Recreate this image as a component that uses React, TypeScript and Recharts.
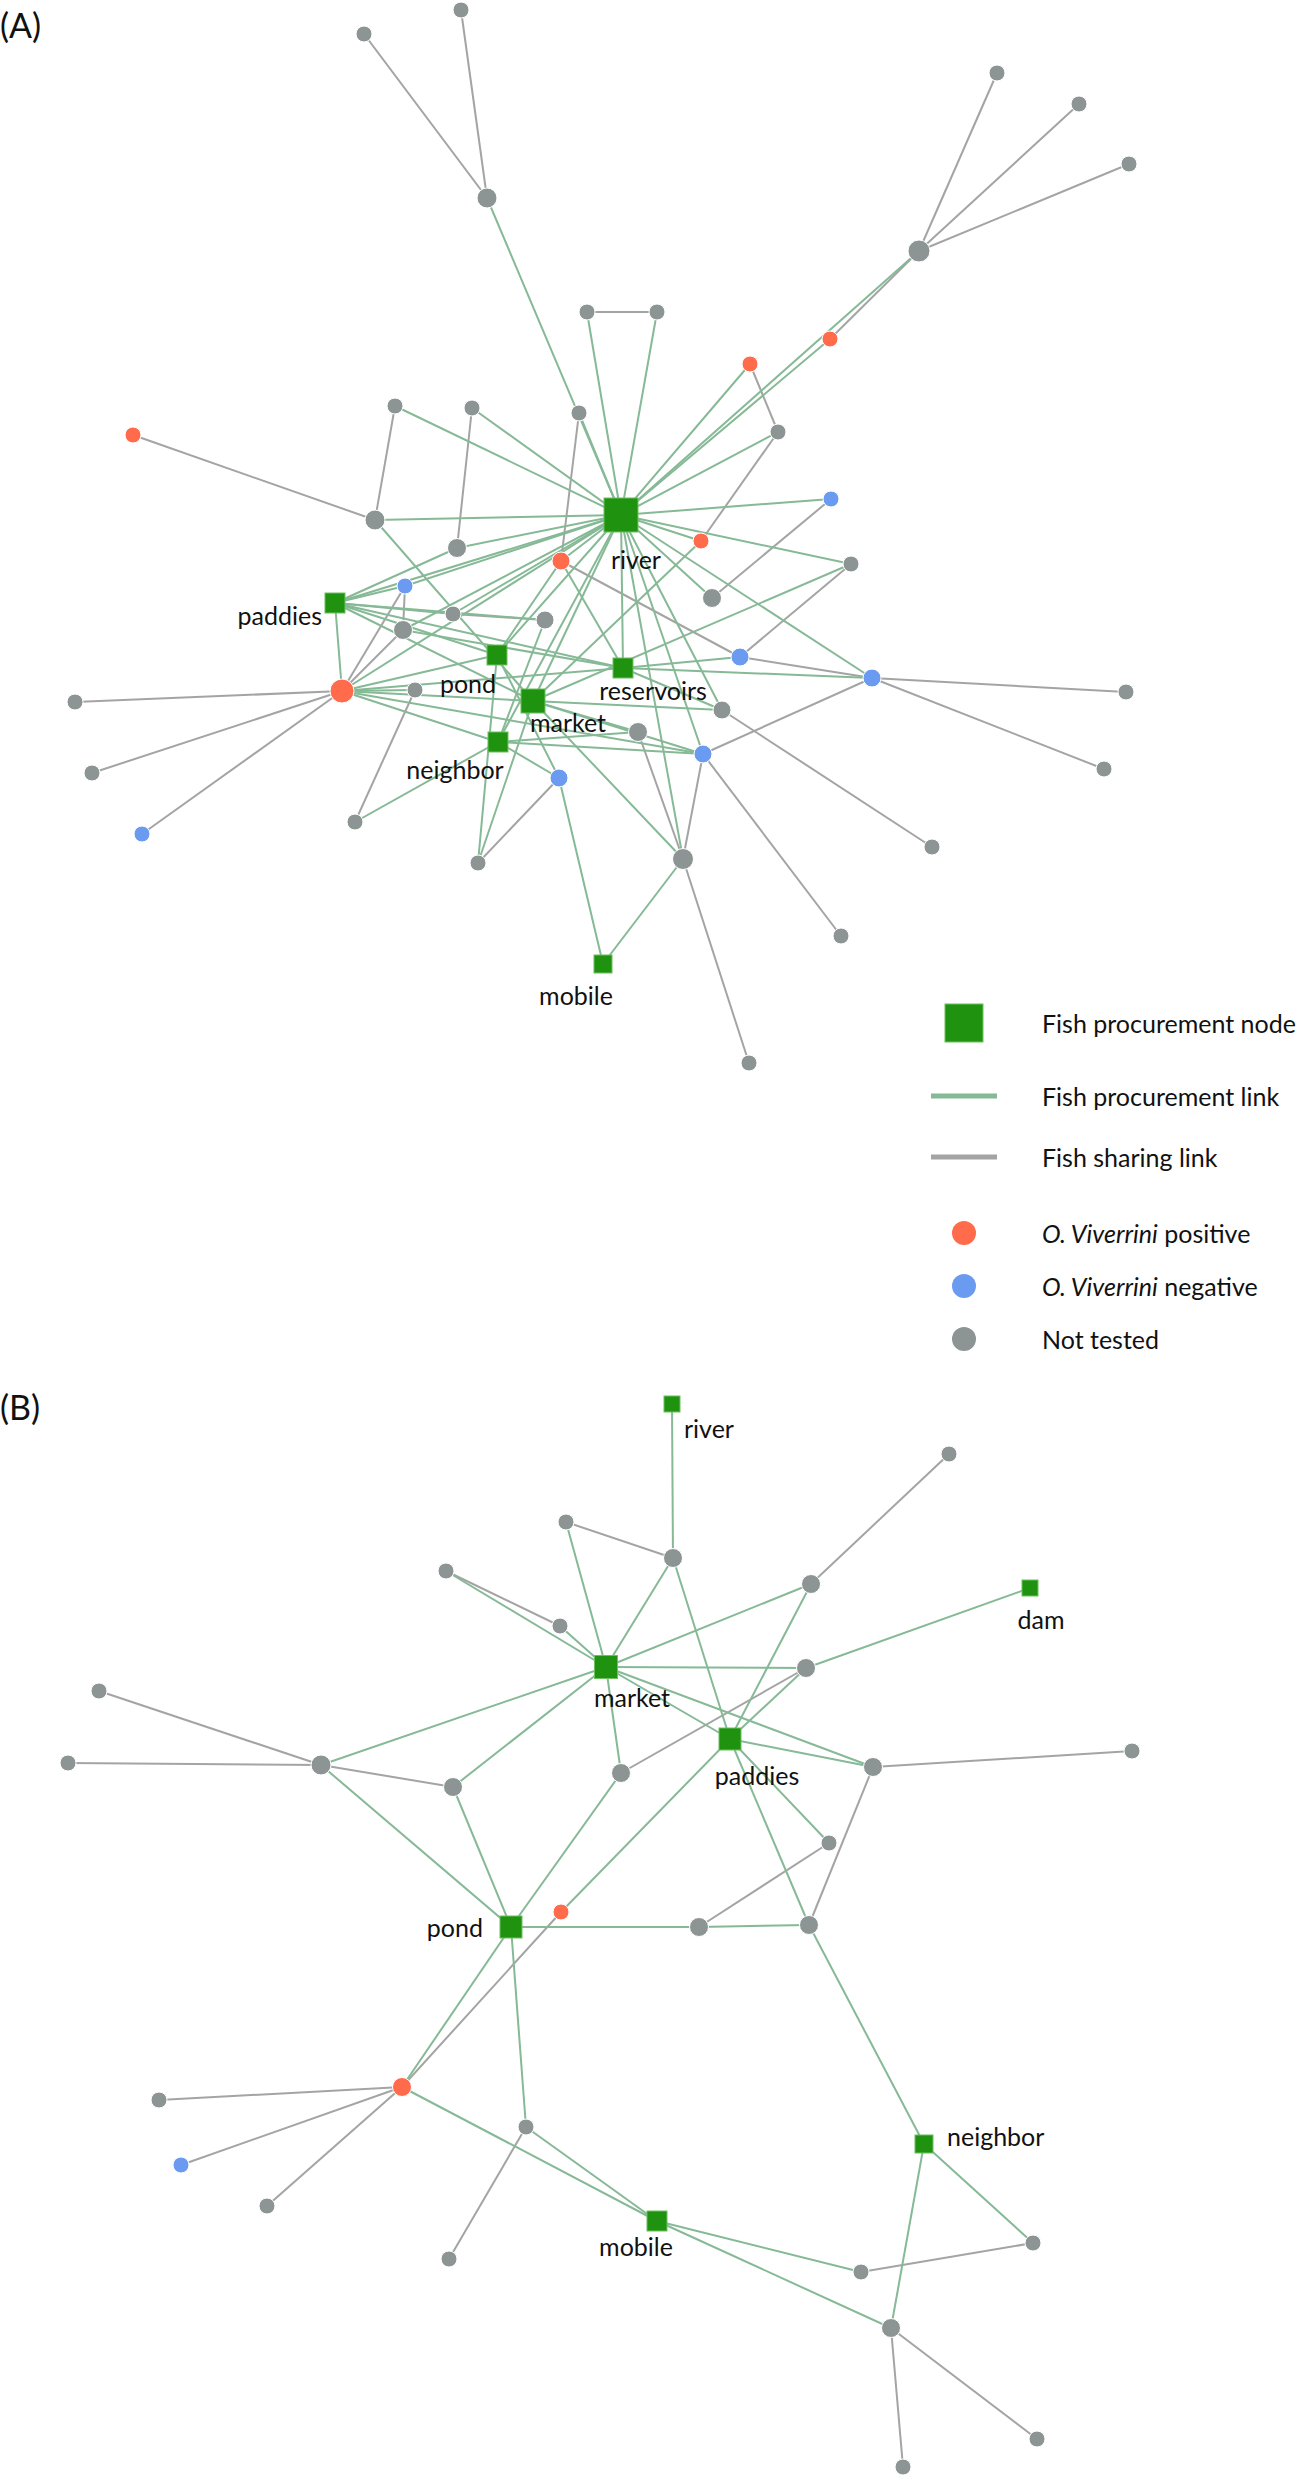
import { ReferenceLine, Scatter, ScatterChart, XAxis, YAxis } from 'recharts'

// ---- panel A : node layout (x, y in figure units) ----
const sourcesA: [string, number, number][] = [
  ['river', 621, 515], ['paddies', 335, 603], ['pond', 497, 655], ['reservoirs', 623, 668],
  ['market', 533, 701], ['neighbor', 498, 742], ['mobile', 603, 964],
]
const positiveA: [string, number, number][] = [
  ['a6', 133, 435], ['a12', 561, 561], ['o1', 342, 691], ['c1', 830, 339], ['c2', 750, 364], ['c5', 701, 541],
]
const negativeA: [string, number, number][] = [
  ['a13', 405, 586], ['c4', 831, 499], ['d3', 740, 657], ['d4', 872, 678], ['e4', 703, 754], ['e5', 559, 778], ['e8', 142, 834],
]
const untestedA: [string, number, number][] = [
  ['a1', 364, 34], ['a2', 461, 10], ['a3', 487, 198], ['a4', 587, 312], ['a5', 657, 312], ['a7', 395, 406],
  ['a8', 472, 408], ['a9', 579, 413], ['a10', 375, 520], ['a11', 457, 548], ['a14', 453, 614], ['a15', 545, 620],
  ['a16', 403, 630], ['a17', 415, 690], ['b1', 997, 73], ['b2', 1079, 104], ['b3', 1129, 164], ['hub2', 919, 251],
  ['c3', 778, 432], ['d1', 851, 564], ['d2', 712, 598], ['d5', 1126, 692], ['e1', 75, 702], ['e2', 722, 710],
  ['e3', 638, 732], ['e6', 92, 773], ['e7', 1104, 769], ['e9', 355, 822], ['e10', 478, 863], ['e11', 683, 859],
  ['e12', 932, 847], ['e13', 841, 936], ['e14', 749, 1063],
]
const procurementA: [string, string][] = [
  ['river', 'a3'], ['river', 'a4'], ['river', 'a5'], ['river', 'a7'], ['river', 'a8'], ['river', 'a9'], ['river', 'a10'],
  ['river', 'a11'], ['river', 'a12'], ['river', 'a13'], ['river', 'a14'], ['river', 'a16'], ['river', 'hub2'],
  ['river', 'c1'], ['river', 'c2'], ['river', 'c3'], ['river', 'c4'], ['river', 'c5'], ['river', 'd1'], ['river', 'd2'],
  ['river', 'd4'], ['river', 'e2'], ['river', 'e4'], ['river', 'e11'], ['river', 'paddies'], ['river', 'pond'],
  ['river', 'reservoirs'], ['river', 'market'], ['river', 'neighbor'], ['river', 'o1'],
  ['paddies', 'a11'], ['paddies', 'a13'], ['paddies', 'a14'], ['paddies', 'a15'], ['paddies', 'pond'],
  ['paddies', 'market'], ['paddies', 'reservoirs'], ['paddies', 'o1'],
  ['pond', 'o1'], ['pond', 'a12'], ['pond', 'e10'], ['pond', 'e5'],
  ['market', 'o1'], ['market', 'a10'], ['market', 'e2'], ['market', 'e4'], ['market', 'e11'], ['market', 'e10'],
  ['market', 'c5'], ['market', 'd1'], ['market', 'e3'],
  ['reservoirs', 'o1'], ['reservoirs', 'd3'], ['reservoirs', 'd4'], ['reservoirs', 'e2'], ['reservoirs', 'a16'], ['reservoirs', 'a12'],
  ['neighbor', 'o1'], ['neighbor', 'e3'], ['neighbor', 'e4'], ['neighbor', 'e5'], ['neighbor', 'e9'], ['neighbor', 'a15'],
  ['mobile', 'e5'], ['mobile', 'e11'], ['o1', 'a17'], ['o1', 'e4'],
]
const sharingA: [string, string][] = [
  ['a1', 'a3'], ['a2', 'a3'], ['a4', 'a5'], ['b1', 'hub2'], ['b2', 'hub2'], ['b3', 'hub2'], ['c1', 'hub2'],
  ['c2', 'c3'], ['c3', 'c5'], ['c4', 'd2'], ['a6', 'a10'], ['a7', 'a10'], ['a8', 'a11'], ['a9', 'a12'],
  ['a12', 'd3'], ['d1', 'd3'], ['d3', 'd4'], ['d4', 'd5'], ['d4', 'e7'], ['d4', 'e4'], ['a14', 'a15'],
  ['a13', 'a16'], ['a13', 'o1'], ['a16', 'o1'], ['o1', 'e1'], ['o1', 'e6'], ['o1', 'e8'], ['a17', 'e9'],
  ['e2', 'e12'], ['e4', 'e13'], ['e4', 'e11'], ['e3', 'e11'], ['e11', 'e14'], ['e5', 'e10'],
]

// ---- panel B ----
const sourcesB: [string, number, number][] = [
  ['river', 672, 1404], ['dam', 1030, 1588], ['market', 606, 1667], ['paddies', 730, 1739],
  ['pond', 511, 1927], ['neighbor', 924, 2144], ['mobile', 657, 2221],
]
const positiveB: [string, number, number][] = [['g1', 561, 1912], ['g3', 402, 2087]]
const negativeB: [string, number, number][] = [['h3', 181, 2165]]
const untestedB: [string, number, number][] = [
  ['f1', 566, 1522], ['f2', 673, 1558], ['f3', 446, 1571], ['f4', 560, 1626], ['f5', 99, 1691], ['f6', 949, 1454],
  ['f7', 811, 1584], ['f8', 806, 1668], ['f9', 68, 1763], ['f10', 321, 1765], ['f11', 453, 1787], ['f12', 621, 1773],
  ['g2', 699, 1927], ['g4', 873, 1767], ['g5', 1132, 1751], ['g6', 829, 1843], ['g7', 809, 1925],
  ['h1', 159, 2100], ['h2', 526, 2127], ['h4', 267, 2206], ['h5', 1033, 2243], ['h6', 449, 2259],
  ['h7', 861, 2272], ['h8', 891, 2328], ['h9', 1037, 2439], ['h10', 903, 2467],
]
const procurementB: [string, string][] = [
  ['river', 'f2'], ['f1', 'market'], ['f3', 'market'], ['f4', 'market'], ['f2', 'market'], ['f2', 'paddies'],
  ['f7', 'market'], ['f7', 'paddies'], ['dam', 'f8'], ['f8', 'market'], ['f8', 'paddies'], ['market', 'paddies'],
  ['market', 'g4'], ['paddies', 'g4'], ['paddies', 'g6'], ['paddies', 'g1'], ['paddies', 'g7'], ['g7', 'neighbor'],
  ['f10', 'market'], ['f11', 'market'], ['f12', 'market'], ['f10', 'pond'], ['f11', 'pond'], ['f12', 'pond'],
  ['pond', 'g2'], ['g2', 'g7'], ['pond', 'g3'], ['pond', 'h2'], ['h2', 'mobile'], ['g3', 'mobile'],
  ['mobile', 'h7'], ['mobile', 'h8'], ['neighbor', 'h5'], ['neighbor', 'h8'],
]
const sharingB: [string, string][] = [
  ['f1', 'f2'], ['f3', 'f4'], ['f6', 'f7'], ['f8', 'f12'], ['f10', 'f5'], ['f10', 'f9'], ['f10', 'f11'],
  ['g1', 'g3'], ['g2', 'g6'], ['g4', 'g5'], ['g4', 'g7'], ['g3', 'h1'], ['g3', 'h3'], ['g3', 'h4'],
  ['h2', 'h6'], ['h7', 'h5'], ['h8', 'h9'], ['h8', 'h10'],
]

const legendItems = ['Fish procurement node', 'Fish procurement link', 'Fish sharing link', 'positive', 'negative', 'Not tested']

// ---- styles ----
const COLORS: Record<string, string> = { source: '#1f930f', positive: '#ff6b4b', negative: '#6b9bf1', untested: '#8c9494' }
const GREEN_LINK = '#86b996'
const GRAY_LINK = '#a4a4a4'
const FONT = 'Lato, "Open Sans", sans-serif'

const squareSize: Record<string, number> = {
  'A:river': 34, 'A:market': 24, 'A:mobile': 18,
  'B:market': 23, 'B:paddies': 22, 'B:pond': 22, 'B:river': 16, 'B:dam': 16, 'B:neighbor': 18, 'B:mobile': 20,
}
const radius: Record<string, number> = {
  'A:a3': 10, 'A:a10': 10, 'A:hub2': 11, 'A:e11': 10.5, 'A:o1': 12, 'A:a12': 9, 'A:d4': 9, 'A:e4': 9,
  'A:d3': 9, 'A:e5': 9, 'A:a11': 9.5, 'A:a15': 9, 'A:a16': 9.5, 'A:e2': 9, 'A:e3': 9.5, 'A:d2': 9.5,
  'B:f10': 10, 'B:f2': 9.5, 'B:f11': 9.5, 'B:f12': 9.5, 'B:f8': 9.5, 'B:f7': 9.5, 'B:g2': 9.5, 'B:g7': 9.5,
  'B:g4': 9.5, 'B:h8': 9.5, 'B:g3': 9.5,
}
const labelPos: Record<string, [number, number, 'start' | 'middle' | 'end']> = {
  'A:river': [15, 44, 'middle'], 'A:paddies': [-13, 12, 'end'], 'A:pond': [-29, 28, 'middle'],
  'A:reservoirs': [30, 22, 'middle'], 'A:market': [35, 21, 'middle'], 'A:neighbor': [-43, 27, 'middle'],
  'A:mobile': [-27, 31, 'middle'],
  'B:river': [12, 24, 'start'], 'B:dam': [11, 31, 'middle'], 'B:market': [26, 30, 'middle'],
  'B:paddies': [27, 36, 'middle'], 'B:pond': [-28, 0, 'end'], 'B:neighbor': [23, -8, 'start'],
  'B:mobile': [-21, 25, 'middle'],
}

type Node = { key: string; id: string; x: number; y: number; kind: string }

function buildNodes(panel: string, groups: [string, [string, number, number][]][]): Node[] {
  const out: Node[] = []
  groups.forEach(([kind, list]) => list.forEach(([id, x, y]) => out.push({ key: `${panel}:${id}`, id, x, y, kind })))
  return out
}

const nodesA = buildNodes('A', [['source', sourcesA], ['positive', positiveA], ['negative', negativeA], ['untested', untestedA]])
const nodesB = buildNodes('B', [['source', sourcesB], ['positive', positiveB], ['negative', negativeB], ['untested', untestedB]])
const allNodes = [...nodesA, ...nodesB]

function segments(nodes: Node[], links: [string, string][]) {
  const byId = new Map(nodes.map((n) => [n.id, n]))
  return links
    .filter(([a, b]) => byId.has(a) && byId.has(b))
    .map(([a, b]) => {
      const p = byId.get(a)!
      const q = byId.get(b)!
      return [{ x: p.x, y: p.y }, { x: q.x, y: q.y }]
    })
}

const sharingSegs = [...segments(nodesA, sharingA), ...segments(nodesB, sharingB)]
const procurementSegs = [...segments(nodesA, procurementA), ...segments(nodesB, procurementB)]

function NodeShape(props: any) {
  const { cx, cy, payload } = props
  const n = payload as Node
  const lp = labelPos[n.key]
  const label = n.kind === 'source' && lp ? (
    <text x={cx + lp[0]} y={cy + lp[1]} textAnchor={lp[2]} dominantBaseline="central" fontFamily={FONT} fontSize={25} fill="#111">
      {n.id}
    </text>
  ) : null
  if (n.kind === 'source') {
    const s = squareSize[n.key] ?? 20
    return (
      <g>
        <rect x={cx - s / 2} y={cy - s / 2} width={s} height={s} fill={COLORS.source} stroke="#6cc060" strokeWidth={1} />
        {label}
      </g>
    )
  }
  const r = radius[n.key] ?? 8
  return <circle cx={cx} cy={cy} r={r} fill={COLORS[n.kind]} stroke="#ffffff" strokeWidth={1} />
}

function LegendRow({ y, children, symbol }: { y: number; children: any; symbol: any }) {
  return (
    <div style={{ position: 'absolute', left: 920, top: y - 20, height: 40, display: 'flex', alignItems: 'center' }}>
      <svg width={88} height={40} style={{ display: 'block' }}>{symbol}</svg>
      <span style={{ marginLeft: 34, fontFamily: FONT, fontSize: 25, color: '#111', whiteSpace: 'nowrap' }}>{children}</span>
    </div>
  )
}

export default function App() {
  return (
    <div style={{ position: 'absolute', left: 0, top: 0, width: 1305, height: 2480, background: '#fff' }}>
      <ScatterChart width={1305} height={2480} margin={{ top: 0, right: 0, bottom: 0, left: 0 }}>
        <XAxis type="number" dataKey="x" domain={[0, 1305]} hide height={0} />
        <YAxis type="number" dataKey="y" domain={[0, 2480]} reversed hide width={0} />
        {sharingSegs.map((s, i) => (
          <ReferenceLine key={`s${i}`} segment={s} stroke={GRAY_LINK} strokeWidth={2} ifOverflow="visible" />
        ))}
        {procurementSegs.map((s, i) => (
          <ReferenceLine key={`p${i}`} segment={s} stroke={GREEN_LINK} strokeWidth={2} ifOverflow="visible" />
        ))}
        <Scatter data={allNodes} dataKey="y" shape={(p: any) => <NodeShape {...p} />} isAnimationActive={false} />
      </ScatterChart>

      <div style={{ position: 'absolute', left: 0, top: 4, fontFamily: FONT, fontSize: 34, color: '#111' }}>(A)</div>
      <div style={{ position: 'absolute', left: 0, top: 1386, fontFamily: FONT, fontSize: 34, color: '#111' }}>(B)</div>

      <LegendRow y={1023} symbol={<rect x={25} y={1} width={38} height={38} fill={COLORS.source} stroke="#6cc060" />}>
        {legendItems[0]}
      </LegendRow>
      <LegendRow y={1096} symbol={<line x1={11} y1={20} x2={77} y2={20} stroke={GREEN_LINK} strokeWidth={5} />}>
        {legendItems[1]}
      </LegendRow>
      <LegendRow y={1157} symbol={<line x1={11} y1={20} x2={77} y2={20} stroke={GRAY_LINK} strokeWidth={5} />}>
        {legendItems[2]}
      </LegendRow>
      <LegendRow y={1233} symbol={<circle cx={44} cy={20} r={12} fill={COLORS.positive} />}>
        <i>O. Viverrini</i> {legendItems[3]}
      </LegendRow>
      <LegendRow y={1286} symbol={<circle cx={44} cy={20} r={12} fill={COLORS.negative} />}>
        <i>O. Viverrini</i> {legendItems[4]}
      </LegendRow>
      <LegendRow y={1339} symbol={<circle cx={44} cy={20} r={12} fill={COLORS.untested} />}>
        {legendItems[5]}
      </LegendRow>
    </div>
  )
}
